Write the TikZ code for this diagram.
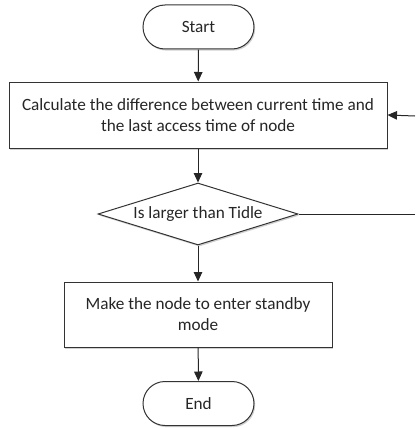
\documentclass[tikz,border=0pt]{standalone}
\usepackage{fontspec}
\setmainfont{Carlito}
\usetikzlibrary{shapes.geometric,shapes.misc,arrows.meta,shadows}
\begin{document}
\begin{tikzpicture}[x=1pt,y=-1pt,
  every node/.style={font=\fontsize{17.2}{21}\selectfont, text=black!85},
  softshadow/.style={drop shadow={shadow xshift=1.2pt, shadow yshift=-1.6pt, opacity=0.18, fill=black}},
  terminal/.style={draw=black!80, line width=1pt, fill=white, rounded rectangle,
    minimum width=111pt, minimum height=44pt, inner sep=0pt, softshadow},
  process/.style={draw=black!80, line width=1pt, fill=white, rectangle, align=center,
    inner sep=0pt, softshadow},
  decision/.style={draw=black!80, line width=1pt, fill=white, diamond, aspect=3.22,
    minimum width=200pt, minimum height=62pt, inner sep=0pt, softshadow},
  flow/.style={draw=black!85, line width=1pt, -{Triangle[length=9.5pt,width=8.5pt]}},
  plain/.style={draw=black!85, line width=1pt}]
\useasboundingbox (0,0) rectangle (415,428);

\node[terminal] (start) at (198.5,27) {Start};
\node[process, minimum width=378pt, minimum height=66pt] (calc) at (198,115)
  {Calculate the difference between current time and\\the last access time of node};
\node[decision] (check) at (198,214) {Is larger than Tidle};
\node[process, minimum width=268pt, minimum height=65pt] (standby) at (198,314.5)
  {Make the node to enter standby\\mode};
\node[terminal] (end) at (198.5,403.5) {End};

% loop back from the decision towards the calculation step (runs off the right side)
\coordinate (loopout) at (415,214);
\coordinate (loopin) at (415,116);

\draw[flow] (start) -- (calc);
\draw[flow] (calc) -- (check);
\draw[flow] (check) -- (standby);
\draw[flow] (standby) -- (end);
\draw[plain] (check.east) -- (loopout);
\draw[flow] (loopin) -- (calc.east);
\end{tikzpicture}
\end{document}
